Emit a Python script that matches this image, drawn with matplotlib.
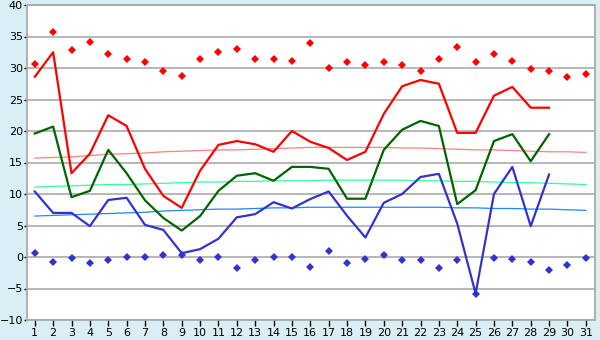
import matplotlib
matplotlib.use("Agg")
import matplotlib.pyplot as plt
import numpy as np

# days of the month
days = list(range(1, 32))

# daily max / mean / min (days 1-29)
t_max = [28.6, 32.5, 13.3, 16.4, 22.5, 20.8, 14.0, 9.7, 7.8, 13.7, 17.8, 18.4, 17.9, 16.7, 20.0,
         18.3, 17.3, 15.4, 16.7, 22.7, 27.1, 28.1, 27.5, 19.7, 19.7, 25.6, 27.0, 23.7, 23.7]
t_mean = [19.6, 20.7, 9.5, 10.5, 17.0, 13.3, 9.0, 6.2, 4.2, 6.5, 10.5, 12.9, 13.3, 12.1, 14.3,
          14.3, 14.0, 9.25, 9.25, 17.0, 20.2, 21.6, 20.8, 8.4, 10.6, 18.4, 19.5, 15.2, 19.5]
t_min = [10.4, 7.0, 7.0, 4.9, 9.05, 9.4, 5.1, 4.3, 0.6, 1.25, 2.9, 6.3, 6.8, 8.7, 7.7,
         9.2, 10.4, 6.55, 3.1, 8.6, 10.0, 12.7, 13.2, 5.3, -5.8, 10.0, 14.3, 4.9, 13.1]

# record highs / lows
rec_max = [30.6, 35.7, 32.8, 34.1, 32.2, 31.4, 30.9, 29.5, 28.8, 31.4, 32.5, 33.0, 31.4, 31.4, 31.1,
           33.9, 29.95, 30.9, 30.4, 30.9, 30.4, 29.6, 31.5, 33.3, 30.9, 32.2, 31.1, 29.8, 29.5, 28.5, 29.0]
rec_min = [0.6, -0.85, -0.2, -1.0, -0.5, 0.0, 0.0, 0.3, 0.3, -0.5, 0.0, -1.8, -0.5, 0.0, 0.0,
           -1.6, 0.9, -1.0, -0.35, 0.3, -0.5, -0.5, -1.8, -0.5, -5.8, -0.2, -0.35, -0.85, -2.1, -1.3, -0.2]

# normals
norm_max = [15.7, 15.8, 15.9, 16.1, 16.3, 16.4, 16.5, 16.7, 16.8, 16.9, 17.0, 17.0, 17.1, 17.2, 17.3,
            17.4, 17.4, 17.4, 17.4, 17.4, 17.3, 17.3, 17.2, 17.1, 17.0, 17.0, 16.9, 16.8, 16.7, 16.7, 16.6]
norm_mean = [11.1, 11.2, 11.3, 11.4, 11.5, 11.5, 11.6, 11.7, 11.8, 11.9, 11.9, 12.0, 12.0, 12.1, 12.1,
             12.1, 12.2, 12.2, 12.2, 12.2, 12.2, 12.1, 12.1, 12.0, 12.0, 11.9, 11.8, 11.8, 11.7, 11.6, 11.5]
norm_min = [6.5, 6.6, 6.7, 6.8, 6.9, 7.0, 7.1, 7.3, 7.4, 7.5, 7.6, 7.6, 7.7, 7.8, 7.8,
            7.9, 7.9, 7.9, 7.9, 7.9, 7.9, 7.9, 7.9, 7.8, 7.8, 7.7, 7.7, 7.6, 7.6, 7.5, 7.4]

bg = '#d9eff5'
grid_c = '#aaaaaa'

fig = plt.figure(figsize=(6, 3.4), dpi=100, facecolor=bg)
ax = fig.add_axes([26.5 / 600, 20 / 340, (595 - 26.5) / 600, 315 / 340])
ax.set_facecolor('white')

# normals (thin)
ax.plot(days, norm_max, color='#ff8080', lw=0.9, zorder=2)
ax.plot(days, norm_mean, color='#33ff99', lw=0.9, zorder=2)
ax.plot(days, norm_min, color='#1a88ff', lw=0.9, zorder=2)

# actual values
n = len(t_max)
ax.plot(days[:n], t_max, color='#ff0000', lw=1.6, zorder=3)
ax.plot(days[:n], t_mean, color='#006400', lw=1.6, zorder=3)
ax.plot(days[:n], t_min, color='#3333cc', lw=1.6, zorder=3)

# records
ax.plot(days, rec_max, ls='none', marker='D', ms=3.6, color='#ff0000', mew=0, zorder=4)
ax.plot(days, rec_min, ls='none', marker='D', ms=3.6, color='#3333cc', mew=0, zorder=4)

ax.set_xlim(0.55, 31.5)
ax.set_ylim(-10, 40)
ax.set_yticks(np.arange(-10, 41, 5))
ax.set_xticks(days)
ax.yaxis.grid(True, color=grid_c, lw=1.2)
ax.set_axisbelow(True)

for s in ax.spines.values():
    s.set_color(grid_c)
    s.set_linewidth(1.3)

ax.tick_params(axis='both', colors='black', labelsize=8, width=1)
ax.tick_params(axis='x', color='black', pad=2, length=4)
ax.tick_params(axis='y', color='black', pad=0.5, length=2)

fig.savefig('out.png', dpi=100, facecolor=bg)
